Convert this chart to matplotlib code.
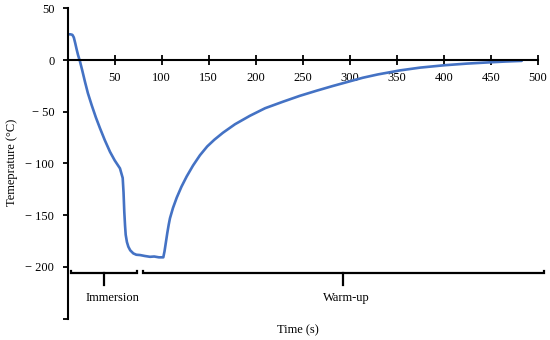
import matplotlib
matplotlib.use("Agg")
import matplotlib.pyplot as plt

# Data
time_s = [0, 3, 5, 6.5, 8, 9.5, 11, 13, 15.5, 18.4, 21.5, 25.5, 30, 34.4, 39.5, 45, 50, 55.6, 58.5,
          59.4, 60.2, 61, 61.7, 63, 64.5, 66.5, 69.8, 73, 77, 82, 87.6, 92, 97, 101.7,
          103, 104.5, 106, 107.5, 108.8, 112, 116, 121, 126.6, 133.3, 140.7, 148.4, 156, 165.2, 178, 193.9, 210, 229,
          247, 265, 282, 300, 314, 330, 353.5, 375, 401, 425, 449, 466, 483]
temp_c = [25, 25, 24.5, 22, 16.5, 10.5, 5, -1, -10, -21, -32, -43.5, -55.5, -66, -77.5, -88.7, -97, -104.7, -114,
          -128, -146.7, -160, -169, -176, -180.5, -184, -187, -188.3, -188.6, -189.5, -190.3, -190, -190.8, -190.8,
          -185, -176, -167, -159, -153, -143, -133, -122.5, -112.5, -102, -92, -83.5, -77, -70.2, -62, -53.8, -46.5, -40.2,
          -34.5, -29.5, -25, -20.5, -17, -13.8, -9.9, -7.2, -4.9, -3.3, -2.1, -1.3, -0.7]

x_ticks = [50, 100, 150, 200, 250, 300, 350, 400, 450, 500]
y_ticks = [50, 0, -50, -100, -150, -200, -250]
y_tick_labels = ["50", "0", "\u2212 50", "\u2212 100", "\u2212 150", "\u2212 200", ""]

phases = ["Immersion", "Warm-up"]
phase_start = [3.2, 79.8]
phase_end = [74, 506.7]
phase_mid = [38.6, 292.9]
phase_label_x = [47.7, 296]

plt.rcParams['font.family'] = ['Liberation Serif', 'DejaVu Serif']

fig = plt.figure(figsize=(5.5, 3.4), dpi=100)
ax = fig.add_axes([67.7 / 550, 1 - 318.5 / 340, 470 / 550, 310 / 340])

ax.plot(time_s, temp_c, color='#4472C4', lw=1.9, solid_capstyle='round', solid_joinstyle='round')

ax.set_xlim(0, 500)
ax.set_ylim(-250, 50)

for s in ['top', 'right']:
    ax.spines[s].set_visible(False)
ax.spines['bottom'].set_position(('data', 0))
ax.spines['bottom'].set_linewidth(1.5)
ax.spines['left'].set_linewidth(1.5)

ax.set_xticks(x_ticks)
ax.set_xticklabels([str(v) for v in x_ticks])
ax.set_yticks(y_ticks)
ax.set_yticklabels(y_tick_labels)
ax.tick_params(axis='x', direction='inout', length=7, width=1.3, pad=5, labelsize=9)
ax.tick_params(axis='y', direction='out', length=3.6, width=1.3, pad=6, labelsize=9)

# Phase brackets
for name, a, b, m, lx in zip(phases, phase_start, phase_end, phase_mid, phase_label_x):
    ax.plot([a, a, b, b], [-203.8, -206, -206, -203.8], color='black', lw=1.6, clip_on=False,
            solid_joinstyle='miter')
    ax.plot([m, m], [-206, -217.6], color='black', lw=1.6, clip_on=False)
    ax.text(lx, -230, name, ha='center', va='center', fontsize=9)

fig.text(298 / 550, 1 - 330 / 340, "Time (s)", ha='center', va='center', fontsize=9)
fig.text(12 / 550, 1 - 162 / 340, "Temeprature (\u00b0C)", ha='center', va='center',
         rotation=90, fontsize=9)

fig.savefig("out.png", dpi=100)
